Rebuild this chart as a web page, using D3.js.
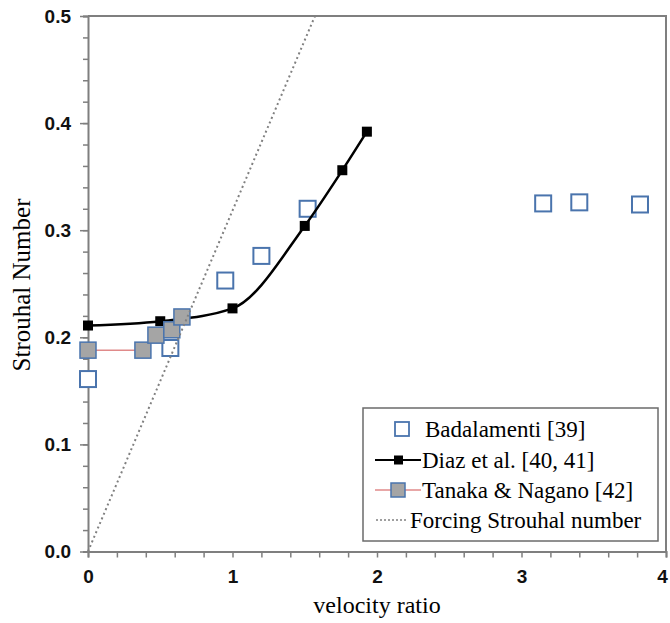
<!DOCTYPE html>
<html>
<head>
<meta charset="utf-8">
<script src="https://cdn.jsdelivr.net/npm/d3@7"></script>
<style>
  body { margin: 0; background: #fff; }
  .tick text { font-family: "Liberation Sans", Arial, sans-serif; font-weight: bold; font-size: 19px; fill: #111; }
  .serif { font-family: "Times New Roman", Times, "Liberation Serif", "Noto Serif", "DejaVu Serif", serif; }
</style>
</head>
<body>
<div id="chart"></div>
<script>
// Badalamenti [39]
var badX = [0, 0.57, 0.95, 1.2, 1.52, 3.15, 3.4, 3.82];
var badY = [0.161, 0.190, 0.253, 0.276, 0.320, 0.325, 0.326, 0.324];
// Diaz et al. [40, 41]
var diazX = [0, 0.5, 1.0, 1.5, 1.76, 1.93];
var diazY = [0.211, 0.215, 0.227, 0.304, 0.356, 0.392];
// Tanaka & Nagano [42]
var tanX = [0, 0.38, 0.47, 0.58, 0.65];
var tanY = [0.188, 0.188, 0.202, 0.207, 0.219];
// forcing Strouhal number = VR / pi
var forceX = [0, 0.5 * Math.PI];
var forceY = [0, 0.5];

var xTicks = [0, 1, 2, 3, 4];
var yTicks = [0.0, 0.1, 0.2, 0.3, 0.4, 0.5];
var legendLabels = ["Badalamenti [39]", "Diaz et al. [40, 41]", "Tanaka & Nagano [42]", "Forcing Strouhal number"];

var width = 670, height = 623;
var padding = {top: 16, right: 4, bottom: 72, left: 88};

var svg = d3.select("#chart").append("svg")
  .attr("width", width)
  .attr("height", height);

var xScale = d3.scaleLinear().domain([0, 4]).range([padding.left, width - padding.right]);
var yScale = d3.scaleLinear().domain([0, 0.5]).range([height - padding.bottom + 0.5, padding.top]);

var axisCol = "#7f7f7f";

// frame top and right
svg.append("path")
  .attr("d", "M" + xScale(0) + "," + yScale(0.5) + "H" + xScale(4) + "V" + yScale(0))
  .attr("fill", "none").attr("stroke", axisCol).attr("stroke-width", 2);

// minor ticks
var xMinor = d3.range(0, 4.0001, 0.2);
var yMinor = d3.range(0, 0.5001, 0.02);

svg.append("g")
  .attr("transform", "translate(0," + yScale(0) + ")")
  .call(d3.axisBottom(xScale).tickValues(xMinor).tickSize(6).tickFormat(""));
var xLab = svg.append("g")
  .attr("transform", "translate(0," + yScale(0) + ")")
  .call(d3.axisBottom(xScale).tickValues(xTicks).tickSize(0).tickPadding(18).tickFormat(d3.format("d")));
xLab.select(".domain").remove();
// last label sits against the edge, pull it in a little
xLab.selectAll(".tick text").filter(function(d) { return d === 4; }).attr("dx", "-4");

svg.append("g")
  .attr("transform", "translate(" + xScale(0) + ",0)")
  .call(d3.axisLeft(yScale).tickValues(yMinor).tickSize(5).tickFormat(""));
var yLab = svg.append("g")
  .attr("transform", "translate(" + xScale(0) + ",0)")
  .call(d3.axisLeft(yScale).tickValues(yTicks).tickSize(8).tickPadding(9).tickFormat(d3.format(".1f")));
yLab.select(".domain").remove();

svg.selectAll(".domain").attr("stroke", axisCol).attr("stroke-width", 2);
svg.selectAll(".tick line").attr("stroke", axisCol).attr("stroke-width", 1.5);

// axis titles
svg.append("text")
  .attr("class", "serif")
  .attr("x", (xScale(0) + xScale(4)) / 2)
  .attr("y", 613)
  .attr("text-anchor", "middle")
  .attr("font-size", 24)
  .text("velocity ratio");

svg.append("text")
  .attr("class", "serif")
  .attr("transform", "translate(30,285) rotate(-90)")
  .attr("text-anchor", "middle")
  .attr("font-size", 25)
  .text("Strouhal Number");

var blue = "#4a74ad";

// Badalamenti open squares
var bs = 16;
svg.append("g").selectAll("rect")
  .data(badX)
  .enter().append("rect")
  .attr("x", function(d) { return xScale(d) - bs / 2; })
  .attr("y", function(d, i) { return yScale(badY[i]) - bs / 2; })
  .attr("width", bs).attr("height", bs)
  .attr("fill", "#fff").attr("stroke", blue).attr("stroke-width", 2);

// Diaz smooth line
var diazLine = d3.line()
  .x(function(d) { return xScale(d[0]); })
  .y(function(d) { return yScale(d[1]); })
  .curve(d3.curveMonotoneX);
svg.append("path")
  .datum(d3.zip(diazX, diazY))
  .attr("d", diazLine)
  .attr("fill", "none").attr("stroke", "#000").attr("stroke-width", 2.5);
var ds = 10;
svg.append("g").selectAll("rect")
  .data(diazX)
  .enter().append("rect")
  .attr("x", function(d) { return xScale(d) - ds / 2; })
  .attr("y", function(d, i) { return yScale(diazY[i]) - ds / 2; })
  .attr("width", ds).attr("height", ds)
  .attr("fill", "#000");

// Tanaka line and squares
var plainLine = d3.line()
  .x(function(d) { return xScale(d[0]); })
  .y(function(d) { return yScale(d[1]); });
svg.append("path")
  .datum(d3.zip(tanX, tanY))
  .attr("d", plainLine)
  .attr("fill", "none").attr("stroke", "#e08a8a").attr("stroke-width", 1.5);
var ts = 16;
svg.append("g").selectAll("rect")
  .data(tanX)
  .enter().append("rect")
  .attr("x", function(d) { return xScale(d) - ts / 2; })
  .attr("y", function(d, i) { return yScale(tanY[i]) - ts / 2; })
  .attr("width", ts).attr("height", ts)
  .attr("fill", "#a5a5a5").attr("stroke", blue).attr("stroke-width", 1.5);

// forcing line
svg.append("path")
  .datum(d3.zip(forceX, forceY))
  .attr("d", plainLine)
  .attr("fill", "none").attr("stroke", "#808080").attr("stroke-width", 2)
  .attr("stroke-dasharray", "2,3");

// legend
var lg = svg.append("g");
lg.append("rect")
  .attr("x", 363).attr("y", 408).attr("width", 295).attr("height", 133)
  .attr("fill", "#fff").attr("stroke", "#6b6b6b").attr("stroke-width", 1.5);

var rowY = [429, 460, 490, 520];
var textX = [425, 422, 422, 410];
lg.selectAll("text")
  .data(legendLabels)
  .enter().append("text")
  .attr("class", "serif")
  .attr("x", function(d, i) { return textX[i]; })
  .attr("y", function(d, i) { return rowY[i]; })
  .attr("dy", "0.35em")
  .attr("font-size", 23)
  .text(function(d) { return d; });

// legend symbols
lg.append("rect").attr("x", 395).attr("y", rowY[0] - 7).attr("width", 14).attr("height", 14)
  .attr("fill", "#fff").attr("stroke", blue).attr("stroke-width", 1.8);
lg.append("line").attr("x1", 375).attr("x2", 421).attr("y1", rowY[1]).attr("y2", rowY[1])
  .attr("stroke", "#000").attr("stroke-width", 2);
lg.append("rect").attr("x", 394).attr("y", rowY[1] - 4.5).attr("width", 9).attr("height", 9).attr("fill", "#000");
lg.append("line").attr("x1", 375).attr("x2", 421).attr("y1", rowY[2]).attr("y2", rowY[2])
  .attr("stroke", "#e08a8a").attr("stroke-width", 1.5);
lg.append("rect").attr("x", 391).attr("y", rowY[2] - 7).attr("width", 14).attr("height", 14)
  .attr("fill", "#a5a5a5").attr("stroke", blue).attr("stroke-width", 1.5);
lg.append("line").attr("x1", 376).attr("x2", 406).attr("y1", rowY[3]).attr("y2", rowY[3])
  .attr("stroke", "#808080").attr("stroke-width", 1.5).attr("stroke-dasharray", "2,2");
</script>
</body>
</html>
